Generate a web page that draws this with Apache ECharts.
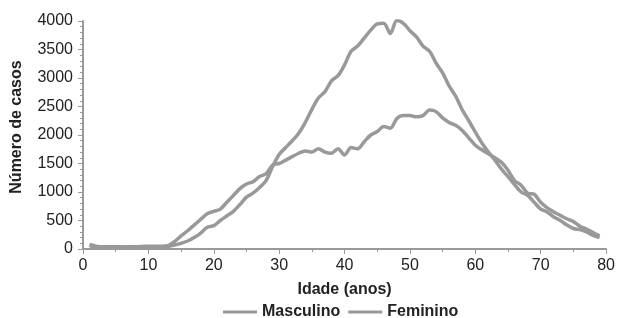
<!DOCTYPE html>
<html>
<head>
<meta charset="utf-8">
<script src="https://cdn.jsdelivr.net/npm/echarts@6/dist/echarts.min.js"></script>
<style>
  html, body { margin: 0; padding: 0; background: #fff; }
  #chart { width: 618px; height: 318px; }
</style>
</head>
<body>
<div id="chart"></div>
<script>
// idade em anos (1..79)
const idades = [
  1, 2, 3, 4, 5, 6, 7, 8, 9, 10,
  11, 12, 13, 14, 15, 16, 17, 18, 19, 20,
  21, 22, 23, 24, 25, 26, 27, 28, 29, 30,
  31, 32, 33, 34, 35, 36, 37, 38, 39, 40,
  41, 42, 43, 44, 45, 46, 47, 48, 49, 50,
  51, 52, 53, 54, 55, 56, 57, 58, 59, 60,
  61, 62, 63, 64, 65, 66, 67, 68, 69, 70,
  71, 72, 73, 74, 75, 76, 77, 78, 79
]

// número de casos por idade
const masculino = [
  60, 30, 30, 30, 30, 30, 30, 35, 40, 40,
  40, 40, 45, 70, 100, 140, 200, 280, 380, 410,
  500, 580, 660, 780, 910, 980, 1080, 1200, 1450, 1660,
  1780, 1900, 2030, 2220, 2450, 2650, 2760, 2950, 3040, 3230,
  3470, 3560, 3700, 3840, 3950, 3960, 3780, 4010, 3960, 3830,
  3720, 3560, 3470, 3260, 3090, 2860, 2680, 2440, 2250, 2050,
  1860, 1700, 1560, 1400, 1270, 1130, 1000, 940, 820, 700,
  650, 560, 500, 420, 360, 340, 300, 240, 200
]

const feminino = [
  80, 50, 40, 40, 40, 35, 40, 40, 45, 50,
  50, 50, 60, 130, 230, 320, 420, 520, 620, 660,
  700, 820, 940, 1060, 1140, 1180, 1270, 1320, 1470, 1500,
  1560, 1620, 1680, 1720, 1700, 1760, 1700, 1680, 1760, 1650,
  1780, 1760, 1880, 2000, 2060, 2150, 2120, 2290, 2340, 2340,
  2320, 2340, 2440, 2410, 2300, 2220, 2170, 2080, 1950, 1820,
  1740, 1670, 1600, 1520, 1380, 1200, 1120, 980, 960, 820,
  720, 650, 590, 530, 480, 400, 350, 290, 230
]

const chart = echarts.init(document.getElementById('chart'), null, { renderer: 'canvas' })

const axisGray = '#9a9a9a'
const lineGray = '#999999'
const fonte = 'Liberation Sans, Arial'

function pares(vals) {
  return idades.map((a, i) => [a, vals[i]])
}

chart.setOption({
  animation: false,
  grid: { left: 83, right: 9, top: 21, bottom: 69 },
  legend: {
    left: 218,
    top: 299,
    icon: 'rect',
    itemWidth: 34,
    itemHeight: 3,
    itemGap: 8,
    textStyle: { fontFamily: fonte, fontSize: 16, fontWeight: 'bold', color: '#222' },
    data: ['Masculino', 'Feminino']
  },
  xAxis: {
    type: 'value',
    min: 0,
    max: 80,
    interval: 10,
    name: 'Idade (anos)',
    nameLocation: 'middle',
    nameGap: 33,
    nameTextStyle: { fontFamily: fonte, fontSize: 16, fontWeight: 'bold', color: '#222' },
    axisLine: { onZero: false, lineStyle: { color: axisGray, width: 2 } },
    axisTick: { show: true, length: 5, lineStyle: { color: axisGray, width: 1 } },
    minorTick: { show: true, splitNumber: 2, length: 3, lineStyle: { color: axisGray, width: 1 } },
    axisLabel: { fontFamily: fonte, fontSize: 16, color: '#222', margin: 9, formatter: v => String(v) },
    splitLine: { show: false }
  },
  yAxis: {
    type: 'value',
    min: 0,
    max: 4000,
    interval: 500,
    name: 'Número de casos',
    nameLocation: 'middle',
    nameGap: 58,
    nameTextStyle: { fontFamily: fonte, fontSize: 16, fontWeight: 'bold', color: '#222', padding: [0, 0, 0, 16] },
    axisLine: { show: true, lineStyle: { color: axisGray, width: 2 } },
    axisTick: { show: true, length: 5, lineStyle: { color: axisGray, width: 1 } },
    minorTick: { show: true, splitNumber: 5, length: 3, lineStyle: { color: axisGray, width: 1 } },
    axisLabel: { fontFamily: fonte, fontSize: 16, color: '#222', margin: 10, formatter: v => String(v) },
    splitLine: { show: false }
  },
  series: [
    {
      name: 'Masculino',
      type: 'line',
      data: pares(masculino),
      symbol: 'none',
      smooth: 0.3,
      color: lineGray,
      lineStyle: { color: lineGray, width: 3.5 }
    },
    {
      name: 'Feminino',
      type: 'line',
      data: pares(feminino),
      symbol: 'none',
      smooth: 0.3,
      color: lineGray,
      lineStyle: { color: lineGray, width: 3.5 }
    }
  ]
})
</script>
</body>
</html>
